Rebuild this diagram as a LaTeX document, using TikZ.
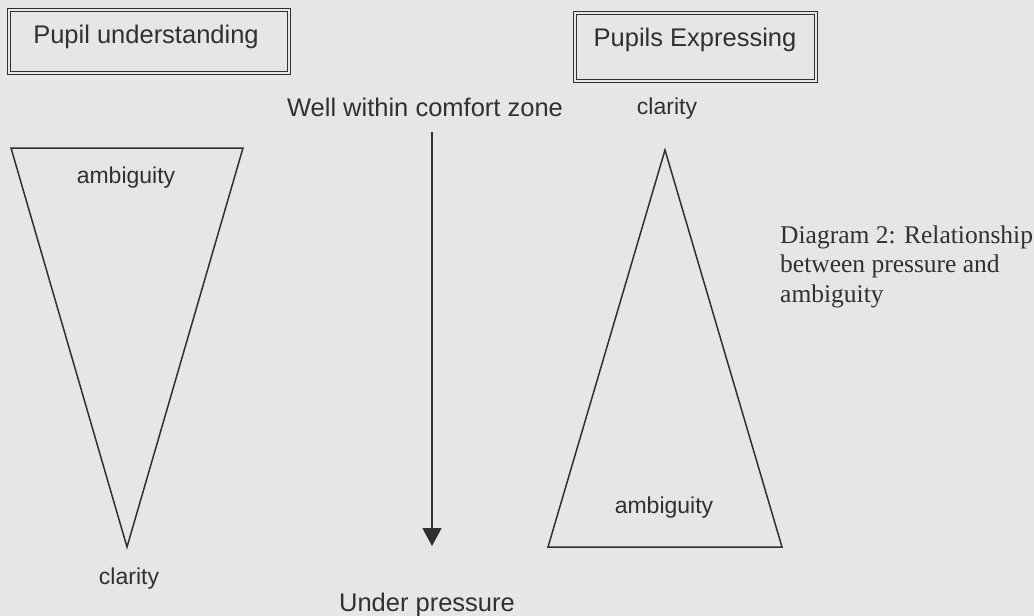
\documentclass[tikz,border=0pt]{standalone}
\usepackage{fontspec}
\setmainfont{Liberation Sans}
\newfontfamily\captionserif{Liberation Serif}
\usetikzlibrary{arrows.meta}
\definecolor{paper}{HTML}{E6E6E6}
\definecolor{ink}{HTML}{303030}
\tikzset{
  titlebox/.style={draw=ink,double=paper,double distance=2.6pt,line width=1.1pt},
  bigtext/.style={text=ink,inner sep=0pt,font=\fontsize{25.5}{30}\selectfont},
  tag/.style={text=ink,inner sep=0pt,font=\fontsize{23}{27}\selectfont},
  captext/.style={text=ink,inner sep=0pt,anchor=base west,font=\captionserif\fontsize{25.5}{30}\selectfont},
  shapeline/.style={draw=ink,line width=1.5pt,line join=miter}
}
\begin{document}
\begin{tikzpicture}[x=1pt,y=-1pt]
\fill[paper] (0,0) rectangle (1034,616);
\useasboundingbox (0,0) rectangle (1034,616);
% boxes at the top
\draw[titlebox] (9,10) rectangle (289,73);
\node[bigtext] (understand) at (146,37) {Pupil understanding};
\draw[titlebox] (575,13) rectangle (816,81);
\node[bigtext] (express) at (695,40) {Pupils Expressing};
% left triangle
\draw[shapeline] (11,148)--(243,148)--(127,547)--cycle;
\node[tag] (ambigL) at (126,178) {ambiguity};
\node[tag] (clarL) at (129,579) {clarity};
% pressure arrow
\node[bigtext] (comfort) at (425,107) {Well within comfort zone};
\coordinate (arrtop) at (432,132);
\coordinate (arrtip) at (432,546);
\draw[draw=ink,line width=1.5pt,-{Triangle[width=19pt,length=18pt]}] (arrtop)--(arrtip);
\node[bigtext] (pressure) at (427,605) {Under pressure};
% right triangle
\draw[shapeline] (665,150)--(782,547)--(548,547)--cycle;
\node[tag] (clarR) at (667,109) {clarity};
\node[tag] (ambigR) at (664,508) {ambiguity};
% caption
\node[captext] (cap1) at (780,243) {Diagram 2: Relationship};
\node[captext] (cap2) at (780,272) {between pressure and};
\node[captext] (cap3) at (780,302) {ambiguity};
\end{tikzpicture}
\end{document}
